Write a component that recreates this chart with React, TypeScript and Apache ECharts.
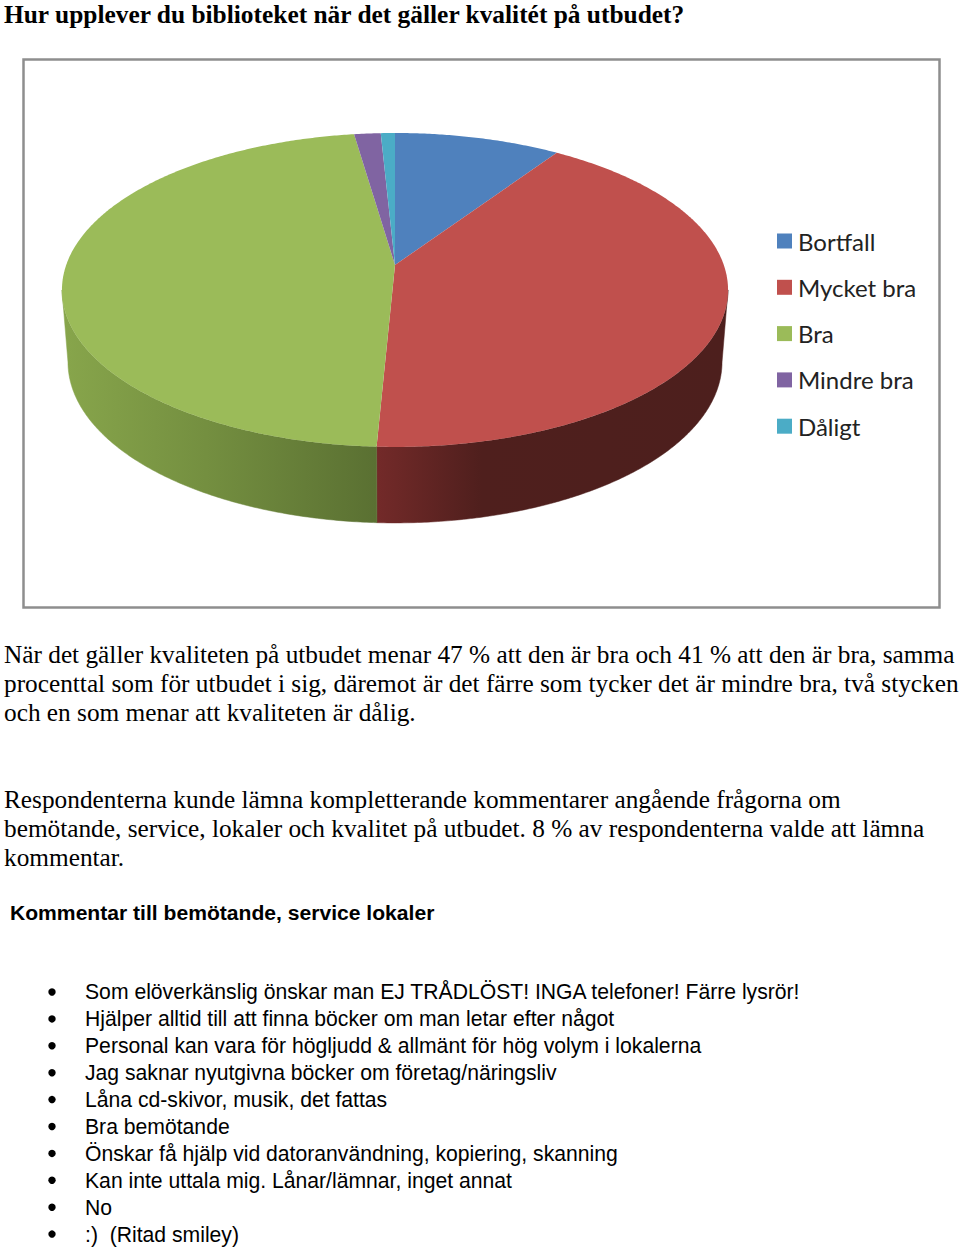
import React, { useEffect, useRef } from "react";
import * as echarts from "echarts";

const categories = ["Bortfall", "Mycket bra", "Bra", "Mindre bra", "Dåligt"];
const shares = [9.4, 41.35, 46.95, 1.5, 0.8];
const colors = ["#4f81bd", "#c0504d", "#9bbb59", "#8064a2", "#4bacc6"];

const titleText = "Hur upplever du biblioteket när det gäller kvalitét på utbudet?";
const paragraphLines = [
  "När det gäller kvaliteten på utbudet menar 47 % att den är bra och 41 % att den är bra, samma",
  "procenttal som för utbudet i sig, däremot är det färre som tycker det är mindre bra, två stycken",
  "och en som menar att kvaliteten är dålig.",
  "Respondenterna kunde lämna kompletterande kommentarer angående frågorna om",
  "bemötande, service, lokaler och kvalitet på utbudet. 8 % av respondenterna valde att lämna",
  "kommentar.",
];
const paragraphY = [654, 683, 712, 799, 828, 857];
const headingText = "Kommentar till bemötande, service lokaler";
const bulletLines = [
  "Som elöverkänslig önskar man EJ TRÅDLÖST! INGA telefoner! Färre lysrör!",
  "Hjälper alltid till att finna böcker om man letar efter något",
  "Personal kan vara för högljudd & allmänt för hög volym i lokalerna",
  "Jag saknar nyutgivna böcker om företag/näringsliv",
  "Låna cd-skivor, musik, det fattas",
  "Bra bemötande",
  "Önskar få hjälp vid datoranvändning, kopiering, skanning",
  "Kan inte uttala mig. Lånar/lämnar, inget annat",
  "No",
  ":)  (Ritad smiley)",
];

// pie projection
const CX = 395, APEX_Y = 265, K = -0.159, A = 153, B = 328.8;
const TOP_CY = 290, TOP_RX = 333, TOP_RY = 157;
const BOT_CY = 362, BOT_RX = 327, BOT_RY = 161;
const FRONT_FROM = 99.15, FRONT_TO = 260.85;

const topPoint = (deg: number) => {
  const r = (deg * Math.PI) / 180;
  const u = Math.sin(r), v = -Math.cos(r);
  const d = 1 + K * v;
  return [CX + (B * u) / d, APEX_Y + (A * v) / d];
};
const botPoint = (deg: number) => {
  const p = topPoint(deg);
  return [CX + ((p[0] - CX) * BOT_RX) / TOP_RX, BOT_CY + ((p[1] - TOP_CY) * BOT_RY) / TOP_RY];
};
const arcDegs = (a: number, b: number) => {
  const out: number[] = [];
  for (let d = a; d < b; d += 0.5) out.push(d);
  out.push(b);
  return out;
};

const sideFill = (i: number) => {
  if (i === 1)
    return new echarts.graphic.LinearGradient(377, 0, 726, 0, [
      { offset: 0, color: "#732a29" },
      { offset: 0.3, color: "#4f1f1d" },
      { offset: 1, color: "#4d1f1d" },
    ], true);
  if (i === 2)
    return new echarts.graphic.LinearGradient(66, 0, 377, 0, [
      { offset: 0, color: "#87a54b" },
      { offset: 0.45, color: "#748f40" },
      { offset: 1, color: "#5a7032" },
    ], true);
  return colors[i];
};

const renderSlice = (params: any, api: any) => {
  const i = params.seriesIndex;
  let before = 0;
  for (let j = 0; j < i; j++) before += shares[j];
  const a = (before / 100) * 360;
  const b = ((before + api.value(0)) / 100) * 360;
  const children: any[] = [];
  const fa = Math.max(a, FRONT_FROM), fb = Math.min(b, FRONT_TO);
  if (fb > fa) {
    const degs = arcDegs(fa, fb);
    const fill = sideFill(i);
    children.push({
      type: "polygon",
      shape: { points: [...degs.map(topPoint), ...degs.slice().reverse().map(botPoint)] },
      style: { fill, stroke: fill, lineWidth: 0.5 },
    });
  }
  children.push({
    type: "polygon",
    shape: { points: [[CX, APEX_Y], ...arcDegs(a, b).map(topPoint)] },
    style: { fill: colors[i] },
  });
  return { type: "group", children };
};

const SERIF = "'Liberation Serif', serif";
const SANS = "'Liberation Sans', sans-serif";

export default function App() {
  const ref = useRef<HTMLDivElement>(null);
  useEffect(() => {
    document.body.style.margin = "0";
    const chart = echarts.init(ref.current!, undefined, { renderer: "svg" });
    const texts: any[] = [
      ...paragraphLines.map((t, i) => ({
        type: "text", x: 4, y: paragraphY[i],
        style: { text: t, font: `25.3px ${SERIF}`, fill: "#000", verticalAlign: "middle" },
      })),
      {
        type: "text", x: 10, y: 912,
        style: { text: headingText, font: `bold 21.1px ${SANS}`, fill: "#000", verticalAlign: "middle" },
      },
      ...bulletLines.flatMap((t, i) => [
        { type: "circle", shape: { cx: 52, cy: 992 + i * 26.9, r: 3.7 }, style: { fill: "#000" } },
        {
          type: "text", x: 85, y: 991 + i * 27,
          style: { text: t, font: `21.17px ${SANS}`, fill: "#000", verticalAlign: "middle" },
        },
      ]),
      {
        type: "rect", shape: { x: 23.5, y: 59.5, width: 916, height: 548 },
        style: { fill: "none", stroke: "#8e8e8e", lineWidth: 2.5 },
      },
    ];
    chart.setOption({
      animation: false,
      backgroundColor: "#ffffff",
      title: {
        text: titleText, left: 4, top: 1.5,
        textStyle: { fontFamily: SERIF, fontWeight: "bold", fontSize: 25.4, color: "#000" },
        padding: 0,
      },
      legend: {
        orient: "vertical", left: 777, top: 227,
        data: categories,
        icon: "rect", itemWidth: 15, itemHeight: 15, itemGap: 18.3, padding: 0,
        selectedMode: false,
        textStyle: { fontFamily: "Lato, sans-serif", fontSize: 24, color: "#222", padding: [0, 0, 0, 1], lineHeight: 28 },
      },
      graphic: texts,
      series: categories.map((name, i) => ({
        type: "custom",
        name,
        coordinateSystem: "none",
        itemStyle: { color: colors[i] },
        renderItem: renderSlice,
        data: [[shares[i]]],
      })),
    });
    return () => chart.dispose();
  }, []);
  return <div ref={ref} style={{ width: 960, height: 1248 }} />;
}
